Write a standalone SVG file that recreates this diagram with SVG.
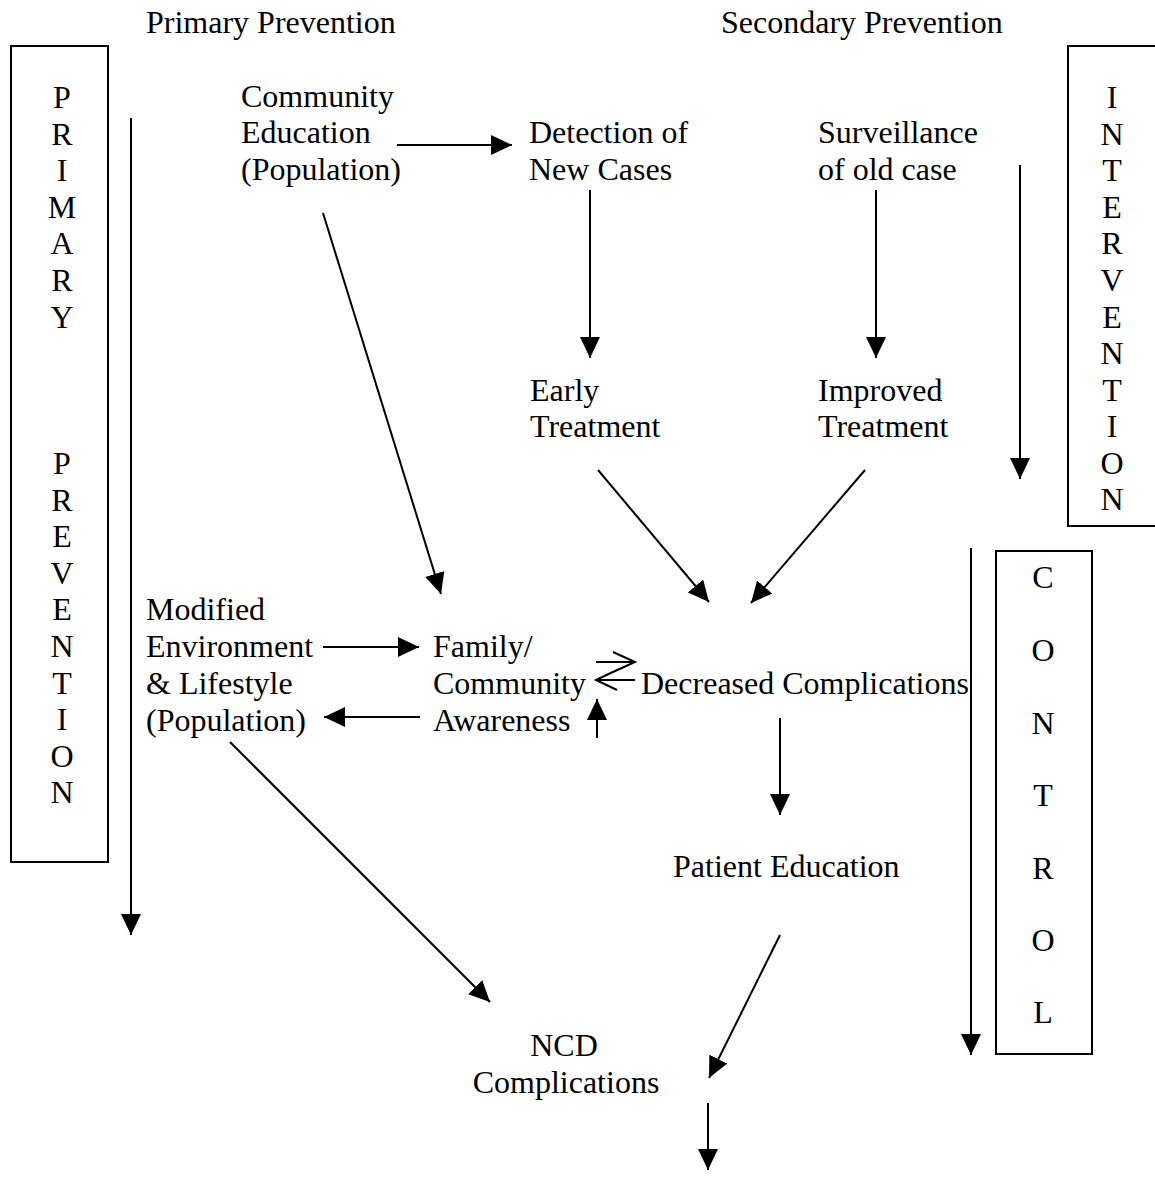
<svg xmlns="http://www.w3.org/2000/svg" width="1155" height="1179" viewBox="0 0 1155 1179">
<defs>
<style>
text{font-family:"Liberation Serif","Times New Roman",serif;font-size:32px;fill:#000}
.c{text-anchor:middle}
.ln{stroke:#000;stroke-width:2;fill:none}
.bx{stroke:#000;stroke-width:2;fill:#fff}
</style>
<marker id="ah" markerWidth="21" markerHeight="20" refX="21" refY="10" orient="auto" markerUnits="userSpaceOnUse">
<path d="M0,0 L21,10 L0,20 z" fill="#000"/>
</marker>
</defs>
<rect width="1155" height="1179" fill="#fff"/>

<g id="titles">
<text x="146" y="33">Primary Prevention</text>
<text x="721" y="33">Secondary Prevention</text>
</g>

<g id="primary-box">
<rect class="bx" x="11" y="46" width="97" height="816"/>
<text class="c" x="62" y="108">P</text>
<text class="c" x="62" y="145">R</text>
<text class="c" x="62" y="181">I</text>
<text class="c" x="62" y="218">M</text>
<text class="c" x="62" y="254">A</text>
<text class="c" x="62" y="291">R</text>
<text class="c" x="62" y="328">Y</text>
<text class="c" x="62" y="474">P</text>
<text class="c" x="62" y="511">R</text>
<text class="c" x="62" y="547">E</text>
<text class="c" x="62" y="584">V</text>
<text class="c" x="62" y="620">E</text>
<text class="c" x="62" y="657">N</text>
<text class="c" x="62" y="694">T</text>
<text class="c" x="62" y="730">I</text>
<text class="c" x="62" y="767">O</text>
<text class="c" x="62" y="803">N</text>
</g>

<g id="intervention-box">
<rect class="bx" x="1068" y="46" width="100" height="480"/>
<text class="c" x="1112" y="108">I</text>
<text class="c" x="1112" y="145">N</text>
<text class="c" x="1112" y="181">T</text>
<text class="c" x="1112" y="218">E</text>
<text class="c" x="1112" y="254">R</text>
<text class="c" x="1112" y="291">V</text>
<text class="c" x="1112" y="328">E</text>
<text class="c" x="1112" y="364">N</text>
<text class="c" x="1112" y="401">T</text>
<text class="c" x="1112" y="437">I</text>
<text class="c" x="1112" y="474">O</text>
<text class="c" x="1112" y="510">N</text>
</g>

<g id="control-box">
<rect class="bx" x="996" y="551" width="96" height="503"/>
<text class="c" x="1043" y="588">C</text>
<text class="c" x="1043" y="661">O</text>
<text class="c" x="1043" y="734">N</text>
<text class="c" x="1043" y="806">T</text>
<text class="c" x="1043" y="879">R</text>
<text class="c" x="1043" y="951">O</text>
<text class="c" x="1043" y="1023">L</text>
</g>

<g id="community-education">
<text x="241" y="107">Community</text>
<text x="241" y="143">Education</text>
<text x="241" y="180">(Population)</text>
</g>
<g id="detection">
<text x="529" y="143">Detection of</text>
<text x="529" y="180">New Cases</text>
</g>
<g id="surveillance">
<text x="818" y="143">Surveillance</text>
<text x="818" y="180">of old case</text>
</g>
<g id="early-treatment">
<text x="530" y="401">Early</text>
<text x="530" y="437">Treatment</text>
</g>
<g id="improved-treatment">
<text x="818" y="401">Improved</text>
<text x="818" y="437">Treatment</text>
</g>
<g id="modified-environment">
<text x="146" y="620">Modified</text>
<text x="146" y="657">Environment</text>
<text x="146" y="694">&amp; Lifestyle</text>
<text x="146" y="731">(Population)</text>
</g>
<g id="family-awareness">
<text x="433" y="657">Family/</text>
<text x="433" y="694">Community</text>
<text x="433" y="731">Awareness</text>
</g>
<g id="decreased-complications">
<text x="641" y="694">Decreased Complications</text>
</g>
<g id="patient-education">
<text x="673" y="877">Patient Education</text>
</g>
<g id="ncd-complications">
<text class="c" x="564" y="1056">NCD</text>
<text class="c" x="566" y="1093">Complications</text>
</g>

<g id="connectors">
<line class="ln" x1="131" y1="118" x2="131" y2="935" marker-end="url(#ah)"/>
<line class="ln" x1="1020" y1="165" x2="1020" y2="479" marker-end="url(#ah)"/>
<line class="ln" x1="971" y1="548" x2="971" y2="1055" marker-end="url(#ah)"/>
<line class="ln" x1="397" y1="145" x2="512" y2="145" marker-end="url(#ah)"/>
<line class="ln" x1="590" y1="190" x2="590" y2="358" marker-end="url(#ah)"/>
<line class="ln" x1="876" y1="190" x2="876" y2="358" marker-end="url(#ah)"/>
<line class="ln" x1="598" y1="470" x2="709" y2="602" marker-end="url(#ah)"/>
<line class="ln" x1="865" y1="470" x2="751" y2="603" marker-end="url(#ah)"/>
<line class="ln" x1="323" y1="213" x2="441" y2="594" marker-end="url(#ah)"/>
<line class="ln" x1="323" y1="647" x2="419" y2="647" marker-end="url(#ah)"/>
<line class="ln" x1="420" y1="717" x2="324" y2="717" marker-end="url(#ah)"/>
<line class="ln" x1="597" y1="738" x2="597" y2="699" marker-end="url(#ah)"/>
<path class="ln" d="M596,662 H635 M613,652 L635,662 L613,672 M635,680 H596 M617,670 L596,680 L617,690"/>
<line class="ln" x1="780" y1="718" x2="780" y2="815" marker-end="url(#ah)"/>
<line class="ln" x1="780" y1="935" x2="709" y2="1078" marker-end="url(#ah)"/>
<line class="ln" x1="230" y1="742" x2="490" y2="1002" marker-end="url(#ah)"/>
<line class="ln" x1="708" y1="1103" x2="708" y2="1170" marker-end="url(#ah)"/>
</g>
</svg>
